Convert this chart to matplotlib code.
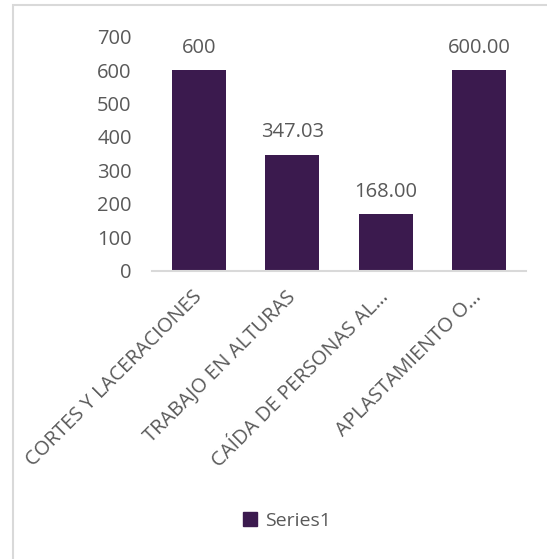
import matplotlib.pyplot as plt
from matplotlib.patches import Patch, Rectangle

categories = ["CORTES Y LACERACIONES", "TRABAJO EN ALTURAS",
              "CAÍDA DE PERSONAS AL…", "APLASTAMIENTO O…"]
values = [600, 347.03, 168.00, 600.00]
label_fmt = ["{:.0f}", "{:.2f}", "{:.2f}", "{:.2f}"]
series_name = "Series1"
yticks = [0, 100, 200, 300, 400, 500, 600, 700]

bar_color = "#3b1a4e"
text_color = "#595959"
grid_color = "#d9d9d9"

plt.rcParams["font.family"] = ["Open Sans", "DejaVu Sans"]

W, H = 547, 559
fig = plt.figure(figsize=(W / 100, H / 100), dpi=100)
ax = fig.add_axes([152.5 / W, 1 - 270.5 / H, 373 / W, (270.5 - 36.6) / H])

x = range(len(categories))
bars = ax.bar(x, values, width=0.58, color=bar_color, zorder=2)
ax.set_xlim(-0.5, len(categories) - 0.5)
ax.set_ylim(0, 700)
ax.set_yticks(yticks)
ax.set_yticklabels([str(t) for t in yticks])

for rect, v, fmt in zip(bars, values, label_fmt):
    ax.annotate(fmt.format(v), (rect.get_x() + rect.get_width() / 2, v),
                xytext=(0, 12.5), textcoords="offset points",
                ha="center", va="baseline", fontsize=14.5, color=text_color)

ax.set_xticks(list(x))
ax.set_xticklabels(categories, rotation=45, ha="right", va="center",
                   rotation_mode="anchor", fontsize=14.5, color=text_color)
ax.tick_params(axis="x", length=0, pad=17)
ax.tick_params(axis="y", length=0, pad=15, labelsize=14.5, labelcolor=text_color)

for s in ["top", "right", "left"]:
    ax.spines[s].set_visible(False)
ax.spines["bottom"].set_color(grid_color)
ax.spines["bottom"].set_linewidth(1.5)

fig.legend(handles=[Patch(color=bar_color, label=series_name)],
           loc="center", bbox_to_anchor=(287 / W, 1 - 521 / H), frameon=False,
           handlelength=0.7, handleheight=0.7, handletextpad=0.4,
           fontsize=14, labelcolor=text_color)

# chart area border
fig.patches.append(Rectangle((13 / W, -0.1), 1.2, 1.1 - 5.5 / H,
                             transform=fig.transFigure, fill=False,
                             edgecolor=grid_color, linewidth=1.5))

fig.savefig("out.png", dpi=100)
